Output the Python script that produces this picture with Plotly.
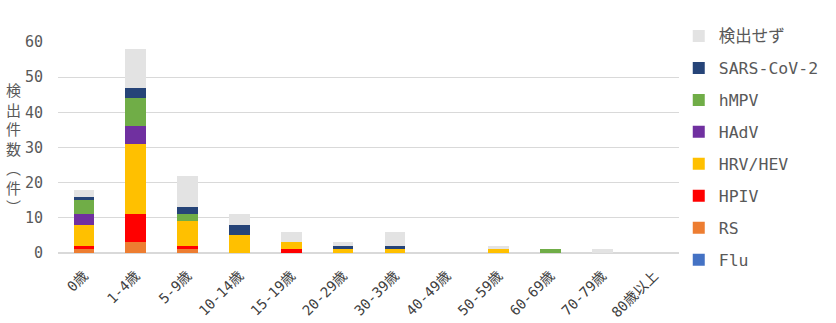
import plotly.graph_objects as go

categories = ["0歳", "1-4歳", "5-9歳", "10-14歳", "15-19歳", "20-29歳", "30-39歳",
              "40-49歳", "50-59歳", "60-69歳", "70-79歳", "80歳以上"]

flu       = [0, 0, 0, 0, 0, 0, 0, 0, 0, 0, 0, 0]
rs        = [1, 3, 1, 0, 0, 0, 0, 0, 0, 0, 0, 0]
hpiv      = [1, 8, 1, 0, 1, 0, 0, 0, 0, 0, 0, 0]
hrv_hev   = [6, 20, 7, 5, 2, 1, 1, 0, 1, 0, 0, 0]
hadv      = [3, 5, 0, 0, 0, 0, 0, 0, 0, 0, 0, 0]
hmpv      = [4, 8, 2, 0, 0, 0, 0, 0, 0, 1, 0, 0]
sars_cov2 = [1, 3, 2, 3, 0, 1, 1, 0, 0, 0, 0, 0]
not_found = [2, 11, 9, 3, 3, 1, 4, 0, 1, 0, 1, 0]

y_ticks = [0, 10, 20, 30, 40, 50, 60]

series = [
    ("Flu", flu, "#4472C4"),
    ("RS", rs, "#ED7D31"),
    ("HPIV", hpiv, "#FF0000"),
    ("HRV/HEV", hrv_hev, "#FFC000"),
    ("HAdV", hadv, "#7030A0"),
    ("hMPV", hmpv, "#70AD47"),
    ("SARS-CoV-2", sars_cov2, "#264478"),
    ("検出せず", not_found, "#E3E3E3"),
]

cjk_font = "Noto Sans CJK JP, sans-serif"
mono_font = "DejaVu Sans Mono, Noto Sans CJK JP, monospace"
text_color = "#595959"

fig = go.Figure()
for i, (name, vals, color) in enumerate(series):
    fig.add_trace(go.Bar(
        x=categories, y=vals, name=name, legendgroup=name,
        legendrank=1000 - i,
        marker=dict(color=color, line=dict(width=0)),
    ))

fig.update_layout(
    barmode="stack",
    bargap=0.6,
    width=836, height=323,
    margin=dict(l=58, r=156, t=42, b=70),
    paper_bgcolor="white", plot_bgcolor="white",
    font=dict(family=cjk_font, color=text_color, size=14),
    legend=dict(
        traceorder="grouped",
        tracegroupgap=7.5,
        x=0.998, y=1.11, xanchor="left", yanchor="top",
        font=dict(size=16.5, color=text_color, family=mono_font),
        itemwidth=30,
        maxheight=323,
    ),
    showlegend=True,
)
fig.update_yaxes(
    range=[0, 60], tickvals=y_ticks, showgrid=True, gridcolor="#D9D9D9",
    gridwidth=1, zeroline=True, zerolinecolor="#D9D9D9", showline=False,
    tickfont=dict(size=15, color=text_color, family=mono_font),
    ticks="", ticklabelstandoff=14, automargin=False,
)
fig.update_xaxes(
    tickangle=-45, tickfont=dict(size=14, color="#404040", family=mono_font),
    showline=True, linecolor="#D9D9D9", ticks="", ticklabelstandoff=8,
    automargin=False,
)
fig.add_annotation(
    text="検<br>出<br>件<br>数<br>︵<br>件<br>︶",
    xref="paper", yref="paper", x=-0.072, y=0.5,
    xanchor="center", yanchor="middle", showarrow=False,
    font=dict(size=15, color=text_color, family=cjk_font),
)

fig.write_html("out.html")
